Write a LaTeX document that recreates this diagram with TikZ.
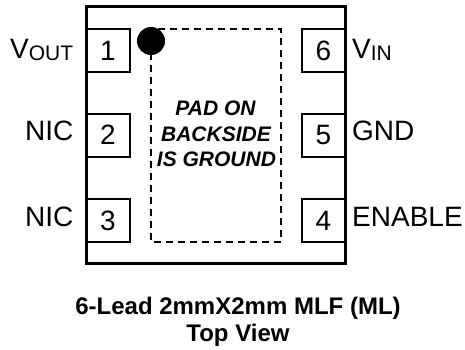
\documentclass[tikz,border=0pt]{standalone}
\usepackage{fontspec}
\setmainfont{Liberation Sans}
\tikzset{
  pinbox/.style={draw=black,line width=2pt,fill=white},
  pinnum/.style={anchor=base,inner sep=0pt,font=\fontsize{28}{28}\selectfont},
  lbl/.style={inner sep=0pt,font=\fontsize{28}{28}\selectfont},
  padtxt/.style={anchor=base,inner sep=0pt,font=\fontsize{21}{21}\selectfont\bfseries\itshape},
  captxt/.style={anchor=base,inner sep=0pt,font=\fontsize{24}{24}\selectfont\bfseries},
}
\newcommand{\subtxt}[1]{{\fontsize{21}{21}\selectfont\raisebox{-2pt}{#1}}}
\begin{document}
\begin{tikzpicture}[x=1pt,y=-1pt]
\useasboundingbox (0,0) rectangle (465,349);
% pins
\draw[pinbox] (86,29) rectangle (129.5,71.5);
\draw[pinbox] (86,113.5) rectangle (129.5,156.5);
\draw[pinbox] (86,198.5) rectangle (129.5,241.5);
\draw[pinbox] (302,29) rectangle (345.5,71.5);
\draw[pinbox] (302,113.5) rectangle (345.5,156.5);
\draw[pinbox] (302,198.5) rectangle (345.5,241.5);
% package outline
\draw[line width=3pt,line join=miter] (86,6.5) rectangle (345.5,263);
% pad
\draw[line width=2pt,dash pattern=on 7pt off 5pt] (151,28.5) rectangle (280.5,242);
\fill[black] (151,41) circle (14);
% pin numbers
\node[pinnum] (n1) at (108,60.5) {1};
\node[pinnum] (n2) at (108,144) {2};
\node[pinnum] (n3) at (108,230.5) {3};
\node[pinnum] (n6) at (323.5,60.5) {6};
\node[pinnum] (n5) at (323.5,144) {5};
\node[pinnum] (n4) at (323.5,230.5) {4};
% labels
\node[lbl,anchor=base west] (vout) at (10,58) {V\subtxt{OUT}};
\node[lbl,anchor=base east] (nic2) at (73.5,140.5) {NIC};
\node[lbl,anchor=base east] (nic3) at (73.5,226.5) {NIC};
\node[lbl,anchor=base west] (vin) at (352,58) {V\subtxt{IN}};
\node[lbl,anchor=base west] (gnd) at (352,140.5) {GND};
\node[lbl,anchor=base west] (en) at (352,226.5) {ENABLE};
% pad text
\node[padtxt] (p1) at (215.5,115) {PAD ON};
\node[padtxt] (p2) at (216,141.5) {BACKSIDE};
\node[padtxt] (p3) at (216.5,166.5) {IS GROUND};
% caption
\node[captxt] (c1) at (238,314) {6-Lead 2mmX2mm MLF (ML)};
\node[captxt] (c2) at (238,341.5) {Top View};
\end{tikzpicture}
\end{document}
